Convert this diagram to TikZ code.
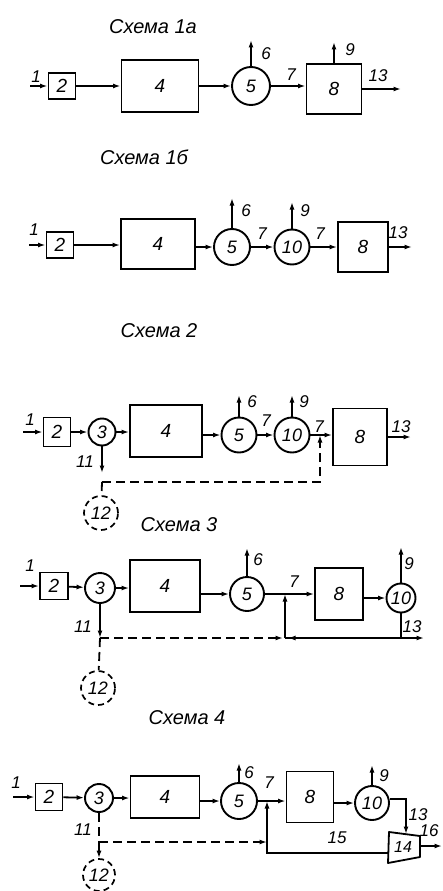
\documentclass[tikz,border=0pt]{standalone}
\usepackage{fontspec}
\setmainfont{Liberation Sans}
\usetikzlibrary{arrows.meta,calc}
\begin{document}
\begin{tikzpicture}[x=1pt,y=-1pt,
  ln/.style={line width=1.8pt},
  arr/.style={line width=1.8pt,-{Latex[length=7.5pt,width=5pt]}},
  dsh/.style={line width=1.8pt,dash pattern=on 9pt off 5pt},
  dsharr/.style={dsh,-{Latex[length=7.5pt,width=5pt]}},
  box/.style={draw,line width=1.9pt,inner sep=0pt,font=\fontsize{19}{19}\selectfont\itshape},
  unit/.style={draw,circle,line width=1.9pt,inner sep=0pt,font=\fontsize{18}{18}\selectfont\itshape},
  waste/.style={draw,circle,line width=1.7pt,dash pattern=on 6pt off 4pt,inner sep=0pt,font=\fontsize{18}{18}\selectfont\itshape},
  lbl/.style={inner sep=0pt,font=\fontsize{17}{17}\selectfont\itshape},
  ttl/.style={inner sep=0pt,font=\fontsize{20}{20}\selectfont\itshape}]
\useasboundingbox (0,0) rectangle (442,891);

% ---------------- Scheme 1a ----------------
\node[ttl] (ta) at (153,27) {Схема 1а};
\coordinate (a1) at (30,86);
\node[box,minimum width=27pt,minimum height=26pt] (a2) at (62,86) {2};
\node[box,minimum width=77pt,minimum height=52pt] (a4) at (160,86) {4};
\node[unit,minimum size=38pt] (a5) at (251,86) {5};
\node[box,minimum width=55pt,minimum height=50pt] (a8) at (334,89) {8};
\coordinate (a6) at (251,40);
\coordinate (a9) at (334,42);
\coordinate (a13) at (401,89);
\draw[arr] (a1) -- (a2);
\draw[arr] (a2) -- (a4);
\draw[arr] (a4) -- (a5);
\draw[arr] (a5) -- (a5 -| a8.west);
\draw[arr] (a5) -- (a6);
\draw[arr] (a8) -- (a9);
\draw[arr] (a8) -- (a13);
\node[lbl] (la1) at (36,77) {1};
\node[lbl] (la6) at (266,54) {6};
\node[lbl] (la7) at (291,75) {7};
\node[lbl] (la9) at (350,50) {9};
\node[lbl] (la13) at (378,76) {13};

% ---------------- Scheme 1b ----------------
\node[ttl] (tb) at (144,157) {Схема 1б};
\coordinate (b1) at (29,245);
\node[box,minimum width=27pt,minimum height=26pt] (b2) at (60,245) {2};
\node[box,minimum width=74pt,minimum height=50pt] (b4) at (158,244) {4};
\node[unit,minimum size=36pt] (b5) at (232,247) {5};
\node[unit,minimum size=35pt] (b10) at (292,247) {10};
\node[box,minimum width=50pt,minimum height=50pt] (b8) at (363,247) {8};
\coordinate (b6) at (232,198);
\coordinate (b9) at (292,202);
\coordinate (b13) at (412,247);
\draw[arr] (b1) -- (b2);
\draw[arr] (b2) -- (b2 -| b4.west);
\draw[arr] (b4.east |- b5) -- (b5);
\draw[arr] (b5) -- (b10);
\draw[arr] (b10) -- (b8);
\draw[arr] (b8) -- (b13);
\draw[arr] (b5) -- (b6);
\draw[arr] (b10) -- (b9);
\node[lbl] (lb1) at (34,230) {1};
\node[lbl] (lb6) at (246,211) {6};
\node[lbl] (lb7a) at (262,234) {7};
\node[lbl] (lb9) at (305,211) {9};
\node[lbl] (lb7b) at (320,234) {7};
\node[lbl] (lb13) at (398,233) {13};

% ---------------- Scheme 2 ----------------
\node[ttl] (tc) at (159,331) {Схема 2};
\coordinate (c1) at (23,432);
\node[box,minimum width=27pt,minimum height=29pt] (c2) at (57,432) {2};
\node[unit,minimum size=27pt] (c3) at (102,432) {3};
\node[box,minimum width=72pt,minimum height=52pt] (c4) at (166,431) {4};
\node[unit,minimum size=35pt] (c5) at (239,435) {5};
\node[unit,minimum size=35pt] (c10) at (292,435) {10};
\node[box,minimum width=54pt,minimum height=57pt] (c8) at (360,437) {8};
\node[waste,minimum size=34pt] (c12) at (101,513) {12};
\coordinate (c6) at (239,395);
\coordinate (c9) at (292,395);
\coordinate (c13) at (411,437);
\coordinate (c11) at (102,473);
\coordinate (cj) at (102,482);
\coordinate (cr) at (320,482);
\draw[arr] (c1) -- (c2);
\draw[arr] (c2) -- (c3);
\draw[arr] (c3) -- (c3 -| c4.west);
\draw[arr] (c4.east |- c5) -- (c5);
\draw[arr] (c5) -- (c10);
\draw[arr] (c10) -- (c10 -| c8.west);
\draw[arr] (c8) -- (c13);
\draw[arr] (c5) -- (c6);
\draw[arr] (c10) -- (c9);
\draw[arr] (c3) -- (c11);
\draw[dsharr] (cj) -- (cr) -- (cr |- c10);
\draw[dsh] (cj) -- (c12);
\node[lbl] (lc1) at (30,420) {1};
\node[lbl] (lc6) at (252,402) {6};
\node[lbl] (lc7a) at (266,421) {7};
\node[lbl] (lc9) at (304,402) {9};
\node[lbl] (lc7b) at (319,427) {7};
\node[lbl] (lc13) at (401,427) {13};
\node[lbl] (lc11) at (85,462) {11};

% ---------------- Scheme 3 ----------------
\node[ttl] (td) at (179,525) {Схема 3};
\coordinate (d1) at (20,586);
\node[box,minimum width=28pt,minimum height=27pt] (d2) at (54,586) {2};
\node[unit,minimum size=30pt] (d3) at (100,588) {3};
\node[box,minimum width=70pt,minimum height=52pt] (d4) at (165,586) {4};
\node[unit,minimum size=34pt] (d5) at (247,594) {5};
\node[box,minimum width=48pt,minimum height=52pt] (d8) at (339,594) {8};
\node[unit,minimum size=29pt] (d10) at (401,598) {10};
\node[waste,minimum size=34pt] (d12) at (98,688) {12};
\coordinate (d6) at (247,548);
\coordinate (d9) at (401,547);
\coordinate (dk) at (401,638);
\coordinate (d13) at (424,638);
\coordinate (dj) at (285,638);
\coordinate (dc) at (100,638);
\draw[arr] (d1) -- (d2);
\draw[arr] (d2) -- (d3);
\draw[arr] (d3) -- (d3 -| d4.west);
\draw[arr] (d4.east |- d5) -- (d5);
\draw[arr] (d5) -- (d5 -| d8.west);
\draw[arr] (d8.east |- d10) -- (d10);
\draw[arr] (d5) -- (d6);
\draw[arr] (d10) -- (d9);
\draw[ln] (d10) -- (dk);
\draw[arr] (dk) -- (d13);
\draw[arr] (dk) -- ([xshift=3pt]dj);
\draw[ln] (dk) -- (dj);
\draw[arr] (dj) -- (dj |- d5);
\draw[arr] (d3) -- (dc);
\draw[dsharr] (dc) -- ([xshift=-2pt]dj);
\draw[dsh] (dc) -- (d12);
\node[lbl] (ld1) at (30,566) {1};
\node[lbl] (ld6) at (258,560) {6};
\node[lbl] (ld7) at (294,582) {7};
\node[lbl] (ld9) at (409,564) {9};
\node[lbl] (ld11) at (83,627) {11};
\node[lbl] (ld13) at (412,627) {13};

% ---------------- Scheme 4 ----------------
\node[ttl] (te) at (187,718) {Схема 4};
\coordinate (e1) at (13,797);
\node[box,minimum width=27pt,minimum height=27pt] (e2) at (49,797) {2};
\node[unit,minimum size=28pt] (e3) at (99,798) {3};
\node[box,minimum width=69pt,minimum height=42pt] (e4) at (165,797) {4};
\node[unit,minimum size=36pt] (e5) at (239,801) {5};
\node[box,minimum width=47pt,minimum height=51pt] (e8) at (310,797) {8};
\node[unit,minimum size=34pt] (e10) at (372,803) {10};
\node[waste,minimum size=32pt] (e12) at (99,875) {12};
\coordinate (ta14) at (389,832);
\coordinate (tb14) at (420,836);
\coordinate (tc14) at (420,857);
\coordinate (td14) at (388,863);
\draw[ln,line join=round] (ta14) -- (tb14) -- (tc14) -- (td14) -- cycle;
\node[inner sep=0pt,font=\fontsize{16}{16}\selectfont\itshape] (e14) at (403,847) {14};
\coordinate (e6) at (239,763);
\coordinate (e9) at (372,765);
\coordinate (e13) at (406,834);
\coordinate (e16s) at (420,846);
\coordinate (e16e) at (442,846);
\coordinate (e15s) at (388,853);
\coordinate (e15c) at (267,853);
\coordinate (ej) at (99,842);
\draw[arr] (e1) -- (e2);
\draw[arr] (e2) -- (e3);
\draw[arr] (e3) -- (e3 -| e4.west);
\draw[arr] (e4.east |- e5) -- (e5);
\draw[arr] (e5) -- (e5 -| e8.west);
\draw[arr] (e8.east |- e10) -- (e10);
\draw[arr] (e5) -- (e6);
\draw[arr] (e10) -- (e9);
\draw[arr] ([yshift=4pt]e10.east) -| (e13);
\draw[arr] (e16s) -- (e16e);
\draw[arr] (e15s) -- (e15c) -- (e15c |- e5);
\draw[dsh] (e3) -- (ej);
\draw[dsharr] (ej) -- (ej -| e15c);
\draw[dsharr] (ej) -- (e12);
\node[lbl] (le1) at (16,783) {1};
\node[lbl] (le6) at (249,773) {6};
\node[lbl] (le7) at (269,783) {7};
\node[lbl] (le9) at (384,776) {9};
\node[lbl] (le11) at (83,830) {11};
\node[lbl] (le13) at (418,815) {13};
\node[lbl] (le15) at (337,838) {15};
\node[lbl] (le16) at (429,831) {16};
\end{tikzpicture}
\end{document}
